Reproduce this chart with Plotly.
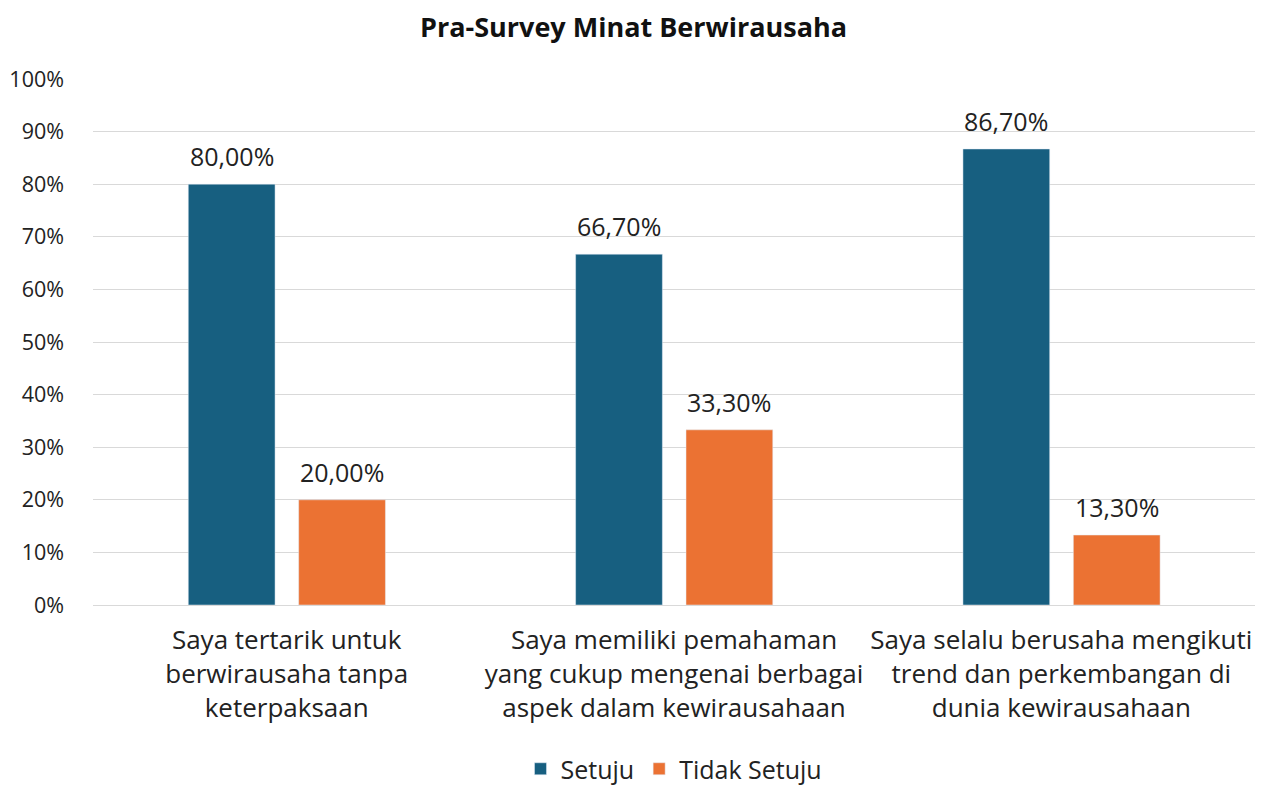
import plotly.graph_objects as go

categories = [
    "Saya tertarik untuk<br>berwirausaha tanpa<br>keterpaksaan",
    "Saya memiliki pemahaman<br>yang cukup mengenai berbagai<br>aspek dalam kewirausahaan",
    "Saya selalu berusaha mengikuti<br>trend dan perkembangan di<br>dunia kewirausahaan",
]
setuju = [0.80, 0.667, 0.867]
tidak_setuju = [0.20, 0.333, 0.133]
series_names = ["Setuju", "Tidak Setuju"]
colors = ["#175F80", "#EB7233"]

def fmt(v):
    return f"{v*100:.2f}%".replace(".", ",")

FONT = "Open Sans"
W, H = 1251, 781
BAR_W = 0.224
OFFSETS = [-0.254, 0.031]
fig = go.Figure()
for name, vals, col, off in zip(series_names, [setuju, tidak_setuju], colors, OFFSETS):
    fig.add_trace(go.Bar(
        x=categories, y=vals, name=name, marker_color=col,
        width=BAR_W, offset=off,
    ))
    for i, v in enumerate(vals):
        fig.add_annotation(
            x=i + off + BAR_W / 2, y=v, xref="x", yref="y",
            text=fmt(v), showarrow=False, yanchor="bottom", yshift=9,
            font=dict(size=25, color="#222222", family=FONT),
        )

fig.update_layout(
    barmode="overlay",
    width=W, height=H,
    margin=dict(l=85, r=4, t=71, b=184, autoexpand=False),
    paper_bgcolor="white", plot_bgcolor="white",
    font=dict(family=FONT, color="#222222"),
    title=dict(text="<b>Pra-Survey Minat Berwirausaha</b>", x=0.5, xanchor="center",
               y=1 - 20/H, yanchor="middle", font=dict(size=27, color="#111111", family=FONT)),
    legend=dict(orientation="h", x=0.5, xanchor="center", y=-(761-597)/526, yanchor="middle",
                font=dict(size=25, color="#222222", family=FONT),
                traceorder="normal"),
    showlegend=True,
)
fig.update_yaxes(range=[0, 1], tickformat=".0%", dtick=0.1, showgrid=True, automargin=False,
                 gridcolor="#D9D9D9", gridwidth=1.3, zeroline=True, zerolinecolor="#D9D9D9",
                 zerolinewidth=1.3, tickfont=dict(size=21.5, color="#222222"),
                 ticks="", ticklen=0, showline=False, ticklabelstandoff=28)
fig.update_xaxes(tickfont=dict(size=26, color="#222222"), showline=False, ticks="",
                 tickangle=0, automargin=False, ticklabelstandoff=17, range=[-0.5, 2.5])

fig.write_html("out.html")
